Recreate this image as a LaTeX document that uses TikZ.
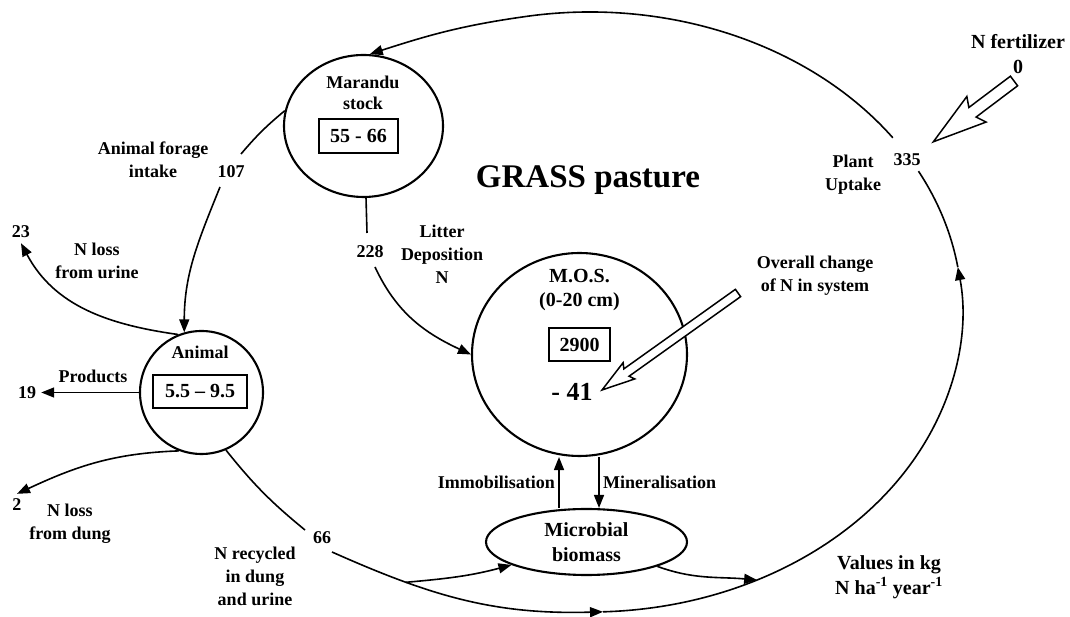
\documentclass[tikz,border=0pt]{standalone}
\usepackage{fontspec}
\setmainfont{Liberation Serif}
\usetikzlibrary{shapes.geometric,arrows.meta,positioning}

\tikzset{
	pool/.style={
		ellipse,
		draw=black, line width=2.1pt,
		inner sep=0pt,
	},
	stockbox/.style={
		rectangle,
		draw=black, line width=2.3pt,
		inner sep=0pt,
		font=\fontsize{20}{24}\selectfont\bfseries,
	},
	lbl/.style={align=center, font=\fontsize{18}{23}\selectfont\bfseries},
	big/.style={align=center, font=\fontsize{20}{25}\selectfont\bfseries},
	num/.style={inner sep=5pt, font=\fontsize{18}{22}\selectfont\bfseries},
	flow/.style={line width=1.6pt},
}

\begin{document}
\begin{tikzpicture}[x=1pt, y=1pt, >={Triangle[length=13pt, width=10pt]}]
	\fill[white] (0,0) rectangle (1070,617);
	\useasboundingbox (0,0) rectangle (1070,617);

	% pools
	\node[pool, minimum width=159pt, minimum height=142pt](MAR) at (363.5,491){};
	\node[lbl, font=\fontsize{18}{21}\selectfont\bfseries](MART) at (363,524.5){Marandu\\stock};
	\node[stockbox, minimum width=79pt, minimum height=34pt](MARV) at (358.5,481){55 - 66};

	\node[pool, circle, minimum size=123pt](ANI) at (201.5,224.5){};
	\node[lbl](ANIT) at (200,265){Animal};
	\node[stockbox, minimum width=94pt, minimum height=33pt](ANIV) at (200,225.5){5.5 -- 9.5};

	\node[pool, minimum width=215pt, minimum height=203pt](MOS) at (579.5,262.5){};
	\node[big, font=\fontsize{20}{24}\selectfont\bfseries](MOST) at (579.5,327){M.O.S.\\(0-20 cm)};
	\node[stockbox, minimum width=61pt, minimum height=33pt](MOSV) at (579.5,272.5){2900};
	\node[font=\fontsize{26}{30}\selectfont\bfseries](DELTA) at (572,225){- 41};

	\node[pool, big, minimum width=201pt, minimum height=66pt](MIC) at (586.5,75){Microbial\\biomass};

	\node[font=\fontsize{33}{36}\selectfont\bfseries](TITLE) at (588,437){GRASS pasture};

	% big loop
	\coordinate (LC) at (590,305);
	\path (LC) ++(272:372pt and 300pt) coordinate (LBOT)
	      (LC) ++(296.7:372pt and 300pt) coordinate (LMIC)
	      (LC) ++(8.6:372pt and 300pt) coordinate (LUP)
	      (LC) ++(28:372pt and 300pt) coordinate (L335A)
	      (LC) ++(35.5:372pt and 300pt) coordinate (L335B);
	\coordinate (R66A) at (305,87);
	\coordinate (R66B) at (332,65);

	\draw[flow] (ANI.-67) to[bend right=6] (R66A);
	\node[num](N66) at (322,79){66};
	\draw[flow,->] (R66B) to[out=-24,in=181.6] coordinate[pos=0.27](SPLIT) (LBOT);
	\draw[flow,->] (SPLIT) to[out=5,in=195] (MIC.197);
	\draw[flow,->] (MIC.-19) to[out=-20,in=175] (LMIC);
	\draw[flow,->] (LBOT) arc[start angle=272, end angle=368.6, x radius=372pt, y radius=300pt];
	\draw[flow] (LUP) arc[start angle=8.6, end angle=28, x radius=372pt, y radius=300pt];
	\draw[flow,->] (L335B) arc[start angle=35.5, end angle=100, x radius=372pt, y radius=300pt]
		to[out=188,in=18] (MAR.85);
	\node[num](N335) at (907,457){335};
	\node[lbl](PLANT) at (853,442){Plant\\Uptake};

	% forage intake
	\coordinate (F107A) at (241,463);
	\coordinate (F107B) at (220,430);
	\draw[flow] (MAR.169) to[bend right=5] (F107A);
	\node[num](N107) at (231,445){107};
	\draw[flow,->] (F107B) to[out=248,in=90] (ANI.106);
	\node[lbl](INTAKE) at (153,457){Animal forage\\intake};

	% litter
	\coordinate (L228A) at (367,384);
	\coordinate (L228B) at (375,350);
	\draw[flow] (MAR.-88) -- (L228A);
	\node[num](N228) at (370,365){228};
	\draw[flow,->] (L228B) to[out=-65,in=155] (MOS.180);
	\node[lbl](LITTER) at (442,363){Litter\\Deposition\\N};

	% animal losses
	\node[num](N23) at (21,385){23};
	\draw[flow,->] (ANI.112) to[out=172,in=-62] (N23.south);
	\node[lbl](URINE) at (97,356){N loss\\from urine};
	\node[num](N19) at (27,224.5){19};
	\draw[flow,->] (ANI.west) -- (N19);
	\node[lbl](PROD) at (93,241){Products};
	\node[num](N2) at (17,112){2};
	\draw[flow,->] (ANI.249) to[out=182,in=25] (N2.north);
	\node[lbl](DUNG) at (70,93.5){N loss\\from dung};
	\node[lbl](RECYC) at (255,41){N recycled\\in dung\\and urine};

	% soil exchange
	\draw[flow,->] ([xshift=-27.5pt]MIC.north) -- node[lbl, left=0pt]{Immobilisation} ([xshift=-20.5pt]MOS.south);
	\draw[flow,->] ([xshift=19.5pt]MOS.south) -- node[lbl, right=0pt]{Mineralisation} ([xshift=12.5pt]MIC.north);

	% hollow arrows
	\begin{scope}[shift={(738,324)}, rotate=215.5]
		\draw[line width=1.5pt, fill=white] (0,4.5) -- (137,4.5) -- (134,10) -- (167,0) -- (134,-10) -- (137,-4.5) -- (0,-4.5) -- cycle;
	\end{scope}
	\node[lbl](OVR) at (815,341){Overall change\\of N in system};

	\begin{scope}[shift={(1014,536)}, rotate=217]
		\draw[line width=1.5pt, fill=white] (0,6) -- (52,6) -- (47,16) -- (101,0) -- (47,-16) -- (52,-6) -- (0,-6) -- cycle;
	\end{scope}
	\node[big](FERT) at (1018,562.5){N fertilizer\\0};

	\node[big](UNIT) at (889,40){Values in kg\\N ha\textsuperscript{-1} year\textsuperscript{-1}};
\end{tikzpicture}
\end{document}
